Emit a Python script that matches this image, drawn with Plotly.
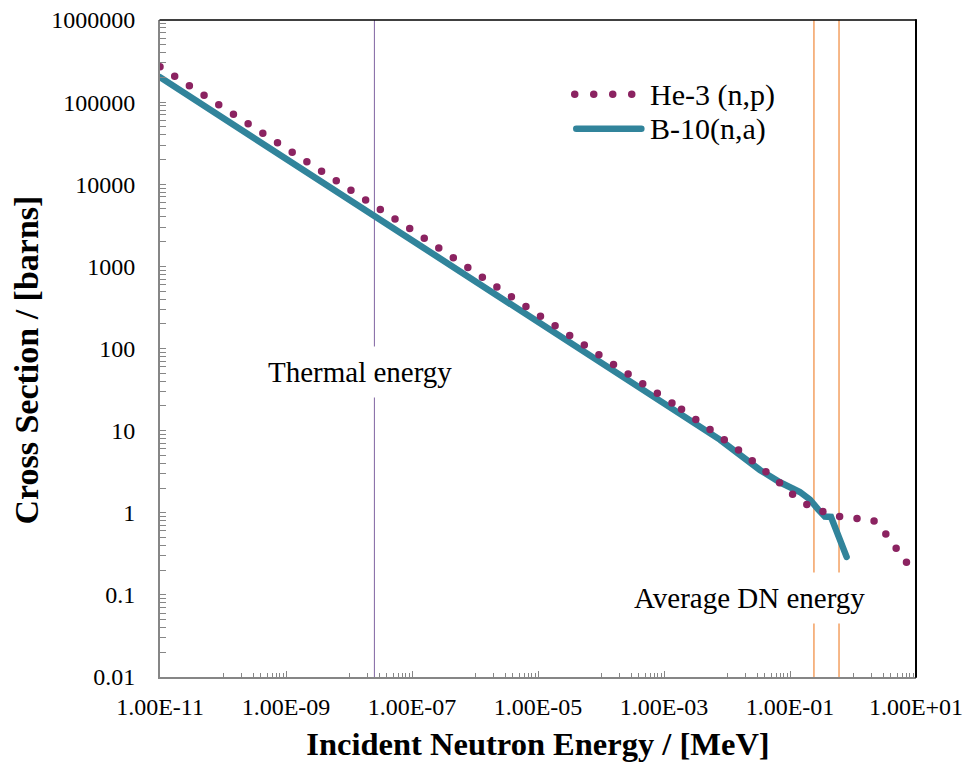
import plotly.graph_objects as go

# He-3(n,p) cross section: incident energy [MeV] vs sigma [barns]
# low-energy table
he3_low_energy = [1e-11, 1e-9, 3.26e-8, 1e-7, 1e-5, 1e-3, 1.9e-3]
he3_low_sigma = [2.70e5, 2.74e4, 4840, 2780, 259, 24.7, 18.2]
# high-energy table
he3_high_energy = [1.9e-3, 5.35e-3, 8.7e-3, 0.015, 0.0245, 0.0414, 0.0673, 0.108, 0.184,
                   0.330, 0.604, 1.14, 2.10, 3.21, 4.75, 6.85, 10.0]
he3_high_sigma = [18.2, 10.5, 7.8, 5.87, 4.36, 3.20, 2.35, 1.69, 1.26,
                  1.04, 0.90, 0.85, 0.81, 0.57, 0.38, 0.26, 0.173]

# B-10(n,a) cross section
b10_energy = [1e-11, 1e-9, 1e-7, 1e-5, 1e-3, 7.7e-3, 0.0333, 0.0692, 0.1436, 0.207,
              0.281, 0.358, 0.447, 0.516, 0.621, 0.792]
b10_sigma = [2.01e5, 2.04e4, 2075, 211, 21.4, 7.78, 3.32, 2.35, 1.79, 1.45,
             1.09, 0.90, 0.89, 0.68, 0.43, 0.29]

# reference energies [MeV]
thermal_energy = 2.53e-8
dn_energy_band = [0.24, 0.60]

# axis ticks
x_tickvals = [1e-11, 1e-9, 1e-7, 1e-5, 1e-3, 1e-1, 1e1]
x_ticktext = ["1.00E-11", "1.00E-09", "1.00E-07", "1.00E-05", "1.00E-03", "1.00E-01", "1.00E+01"]
y_tickvals = [0.01, 0.1, 1, 10, 100, 1000, 10000, 100000, 1000000]
y_ticktext = ["0.01", "0.1", "1", "10", "100", "1000", "10000", "100000", "1000000"]

y_range = [0.01, 1e6]

# minor ticks: linear steps inside each labelled interval
x_minor = [m * x_tickvals[i] * 10 for i in range(len(x_tickvals) - 1) for m in range(1, 10)]
y_minor = [m * v for v in y_tickvals[:-1] for m in range(2, 10)]

HE3_COLOR = "#8B2361"
B10_COLOR = "#31849B"
THERMAL_COLOR = "#8064A2"
DN_COLOR = "#F0883A"
AXIS_GREY = "#868686"
FONT = "Liberation Serif"

fig = go.Figure()

# vertical marker lines
fig.add_trace(go.Scatter(x=[thermal_energy, thermal_energy], y=y_range, mode="lines",
                         line=dict(color=THERMAL_COLOR, width=1), showlegend=False,
                         hoverinfo="skip"))
for e in dn_energy_band:
    fig.add_trace(go.Scatter(x=[e, e], y=y_range, mode="lines",
                             line=dict(color=DN_COLOR, width=1.2), showlegend=False,
                             hoverinfo="skip"))

fig.add_trace(go.Scatter(x=b10_energy, y=b10_sigma, mode="lines", name="B-10(n,a)",
                         line=dict(color=B10_COLOR, width=6.5), showlegend=False))
for ex, sy in ((he3_low_energy, he3_low_sigma), (he3_high_energy, he3_high_sigma)):
    fig.add_trace(go.Scatter(x=ex, y=sy, mode="lines", name="He-3 (n,p)",
                             line=dict(color=HE3_COLOR, width=7.5, dash="0px,17.5px"),
                             showlegend=False))

axis_common = dict(
    type="log",
    automargin=False,
    showgrid=False,
    zeroline=False,
    showline=True,
    linecolor=AXIS_GREY,
    linewidth=2,
    ticks="inside",
    tickcolor=AXIS_GREY,
    tickwidth=1,
    tickfont=dict(family=FONT, size=24, color="#000000"),
    tickmode="array",
)

fig.update_xaxes(
    **axis_common,
    range=[-11, 1],
    tickvals=x_tickvals,
    ticktext=x_ticktext,
    ticklen=6,
    ticklabelstandoff=7,
    minor=dict(tickmode="array", tickvals=x_minor, ticks="inside", ticklen=4,
               tickcolor=AXIS_GREY, tickwidth=1),
    title=dict(text="<b>Incident Neutron Energy / [MeV]</b>",
               font=dict(family=FONT, size=32.5, color="#000000"), standoff=13),
)
fig.update_yaxes(
    **axis_common,
    range=[-2, 6],
    tickvals=y_tickvals,
    ticktext=y_ticktext,
    ticklen=6,
    ticklabelstandoff=18,
    minor=dict(tickmode="array", tickvals=y_minor, ticks="inside", ticklen=6,
               tickcolor=AXIS_GREY, tickwidth=1),
)

shapes = [
    # top and right frame
    dict(type="line", xref="paper", yref="paper", x0=0, x1=1, y0=1, y1=1,
         line=dict(color="#000000", width=1.5)),
    dict(type="line", xref="paper", yref="paper", x0=1, x1=1, y0=0, y1=1,
         line=dict(color="#000000", width=2)),
    # legend samples
    dict(type="line", xref="paper", yref="paper", x0=0.5486, x1=0.6241, y0=0.8869, y1=0.8869,
         line=dict(color=HE3_COLOR, width=7.5, dash="0px,19px")),
    dict(type="line", xref="paper", yref="paper", x0=0.5506, x1=0.6367, y0=0.8346, y1=0.8346,
         line=dict(color=B10_COLOR, width=6.5)),
]

annotations = [
    dict(text="<b>Cross Section / [barns]</b>", xref="paper", yref="paper",
         x=-0.176, y=0.483, xanchor="center", yanchor="middle", textangle=-90,
         showarrow=False, font=dict(family=FONT, size=34, color="#000000")),
    dict(text="He-3 (n,p)", xref="paper", yref="paper", x=0.646, y=0.8855,
         xanchor="left", yanchor="middle", showarrow=False,
         font=dict(family=FONT, size=30, color="#000000")),
    dict(text="B-10(n,a)", xref="paper", yref="paper", x=0.646, y=0.8340,
         xanchor="left", yanchor="middle", showarrow=False,
         font=dict(family=FONT, size=30, color="#000000")),
    dict(text="Thermal energy", xref="paper", yref="paper", x=0.264, y=0.4635,
         xanchor="center", yanchor="middle", showarrow=False, bgcolor="#FFFFFF",
         borderpad=9, font=dict(family=FONT, size=29, color="#000000")),
    dict(text="Average DN energy", xref="paper", yref="paper", x=0.7796, y=0.1208,
         xanchor="center", yanchor="middle", showarrow=False, bgcolor="#FFFFFF",
         borderpad=9, font=dict(family=FONT, size=29, color="#000000")),
]

fig.update_layout(
    width=967,
    height=767,
    margin=dict(l=160, r=51, t=20, b=90, pad=0, autoexpand=False),
    paper_bgcolor="#FFFFFF",
    plot_bgcolor="#FFFFFF",
    showlegend=False,
    hovermode=False,
    shapes=shapes,
    annotations=annotations,
)

# round line caps so zero-length dashes render as round dots
css = ".js-line, .shapelayer path { stroke-linecap: round !important; }"
post = ("var s=document.createElement('style');s.textContent='" + css +
        "';document.head.appendChild(s);")
fig.write_html("out.html", post_script=post, config={"displayModeBar": False})
